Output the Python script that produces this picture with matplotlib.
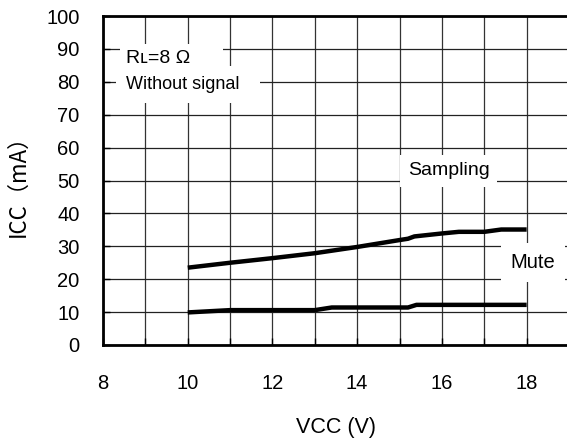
import numpy as np
import matplotlib
matplotlib.use('Agg')
import matplotlib.pyplot as plt
from matplotlib.ticker import MultipleLocator

# data
vcc_sampling = [10, 11, 12, 13, 14, 15, 15.2, 15.35, 16, 16.4, 17, 17.4, 18]
icc_sampling = [23.5, 25.0, 26.4, 27.9, 29.8, 31.9, 32.3, 33.0, 33.9, 34.4, 34.4, 35.1, 35.1]

vcc_mute = [10, 11, 13, 13.4, 15.2, 15.4, 18]
icc_mute = [9.9, 10.6, 10.6, 11.4, 11.4, 12.2, 12.2]

x_ticks = [8, 10, 12, 14, 16, 18]
y_ticks = [0, 10, 20, 30, 40, 50, 60, 70, 80, 90, 100]

cjk = ['Noto Sans CJK JP', 'DejaVu Sans']
latin = ['Liberation Sans', 'DejaVu Sans']

fig = plt.figure(figsize=(5.67, 4.41), dpi=100)
# axes runs off the right edge of the picture like the reference
ax = fig.add_axes([103 / 567, (441 - 345) / 441, (569 - 103) / 567, (345 - 16) / 441])

ax.set_xlim(8, 19)
ax.set_ylim(0, 100)

ax.xaxis.set_minor_locator(MultipleLocator(1))
ax.set_xticks(x_ticks)
ax.set_yticks(y_ticks)
ax.grid(True, which='both', axis='x', color='#333333', linewidth=0.9, zorder=1)
ax.grid(True, which='major', axis='y', color='#222222', linewidth=0.9, zorder=1)

ax.plot(vcc_sampling, icc_sampling, color='black', linewidth=3.2, zorder=4, solid_capstyle='butt')
ax.plot(vcc_mute, icc_mute, color='black', linewidth=3.2, zorder=4, solid_capstyle='butt')

for side in ['left', 'bottom', 'top']:
    ax.spines[side].set_linewidth(2)
ax.spines['right'].set_visible(False)

ax.tick_params(axis='both', which='both', direction='in', length=5, width=1)
ax.tick_params(axis='y', pad=17)
ax.tick_params(axis='x', pad=21)
for lab in ax.get_xticklabels() + ax.get_yticklabels():
    lab.set_fontfamily('Liberation Sans')
    lab.set_fontsize(14.5)

ax.set_xlabel('VCC (V)', family=latin, fontsize=15.5, labelpad=17)
ax.set_ylabel('ICC（mA）', family=cjk, fontsize=16, labelpad=12)

ax.text(8.55, 87.0, 'Rʟ=8 Ω     ', family=latin, fontsize=14, va='center', ha='left',
        bbox=dict(facecolor='white', edgecolor='none', boxstyle='square,pad=0.3'), zorder=3)
ax.text(8.55, 79.2, 'Without signal  ', family=latin, fontsize=13, va='center', ha='left',
        bbox=dict(facecolor='white', edgecolor='none', boxstyle='square,pad=0.55'), zorder=3)
ax.text(16.16, 52.9, 'Sampling', family=latin, fontsize=14, va='center', ha='center',
        bbox=dict(facecolor='white', edgecolor='none', boxstyle='square,pad=0.4'), zorder=3)
ax.text(18.15, 25.1, 'Mute', family=latin, fontsize=14.5, va='center', ha='center',
        bbox=dict(facecolor='white', edgecolor='none', boxstyle='square,pad=0.5'), zorder=3)

fig.savefig('out.png', dpi=100)
